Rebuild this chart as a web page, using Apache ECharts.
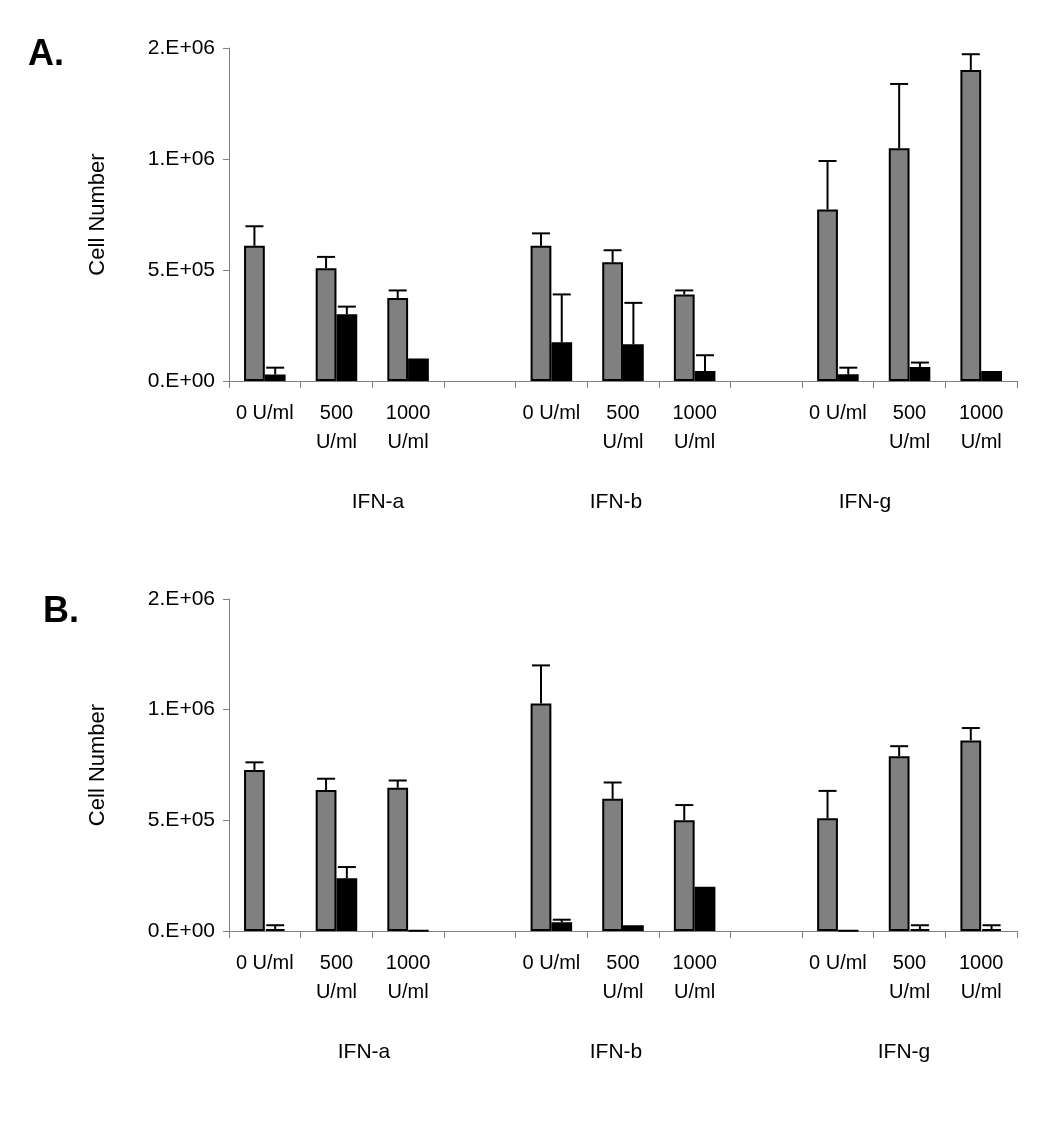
<!DOCTYPE html>
<html>
<head>
<meta charset="utf-8">
<script src="https://cdn.jsdelivr.net/npm/echarts@6/dist/echarts.min.js"></script>
<style>
html,body{margin:0;padding:0;background:#fff;}
#chart{width:1038px;height:1122px;}
</style>
</head>
<body>
<div id="chart"></div>
<script>
// ---- data ----
const categories = ['0 U/ml', '500\nU/ml', '1000\nU/ml', '', '0 U/ml', '500\nU/ml', '1000\nU/ml', '', '0 U/ml', '500\nU/ml', '1000\nU/ml'];
const groupLabels = ['IFN-a', 'IFN-b', 'IFN-g'];
const yTickLabels = ['0.E+00', '5.E+05', '1.E+06', '2.E+06'];

// Panel A
const grayA     = [609000, 508000, 374000, null, 609000, 535000, 390000, null, 773000, 1048000, 1401000];
const errGrayA  = [88000, 51000, 34000, null, 56000, 54000, 18000, null, 218000, 290000, 71000];
const blackA    = [29000, 301000, 101000, null, 174000, 165000, 45000, null, 30000, 63000, 45000];
const errBlackA = [31000, 34000, null, null, 216000, 187000, 71000, null, 30000, 20000, null];

// Panel B
const grayB     = [727000, 637000, 647000, null, 1028000, 597000, 500000, null, 509000, 790000, 861000];
const errGrayB  = [35000, 51000, 33000, null, 172000, 74000, 69000, null, 124000, 45000, 56000];
const blackB    = [9000, 238000, 2000, null, 39000, 26000, 200000, null, 2000, 9000, 9000];
const errBlackB = [17000, 51000, null, null, 12000, null, null, null, null, 17000, 17000];

// ---- chart ----
const FONT = 'Liberation Sans, Arial, sans-serif';
const GAP = 0.42;
const chart = echarts.init(document.getElementById('chart'), null, {renderer: 'canvas'});

function errData(vals, errs) {
  const out = [];
  vals.forEach((v, i) => { if (v != null && errs[i] != null) out.push([i, v, errs[i]]); });
  return out;
}
function errRender(side) {
  return function (params, api) {
    const i = api.value(0), v = api.value(1), e = api.value(2);
    const base = api.coord([i, v]);
    const top = api.coord([i, v + e]);
    const band = api.size([1, 0])[0];
    const bw = band * (1 - GAP) / 2;
    const cx = base[0] + side * bw / 2;
    const half = 9;
    return {
      type: 'group',
      children: [
        {type: 'line', shape: {x1: cx, y1: base[1], x2: cx, y2: top[1]}, style: {stroke: '#000', lineWidth: 2}},
        {type: 'line', shape: {x1: cx - half, y1: top[1], x2: cx + half, y2: top[1]}, style: {stroke: '#000', lineWidth: 2}}
      ]
    };
  };
}

const grids = [
  {left: 229, right: 21, top: 48, bottom: 741},
  {left: 229, right: 21, top: 599, bottom: 191}
];

function xAxis(idx) {
  return {
    type: 'category', gridIndex: idx, data: categories,
    axisLine: {lineStyle: {color: '#808080', width: 1}},
    axisTick: {show: true, interval: 0, length: 7, lineStyle: {color: '#808080'}},
    axisLabel: {interval: 0, color: '#000', fontFamily: FONT, fontSize: 20, lineHeight: 29, margin: 18}
  };
}
function yAxis(idx) {
  return {
    type: 'value', gridIndex: idx, min: 0, max: 1500000, interval: 500000,
    name: 'Cell Number', nameLocation: 'middle', nameGap: 120, nameRotate: 90,
    nameTextStyle: {color: '#000', fontFamily: FONT, fontSize: 22},
    axisLine: {show: true, lineStyle: {color: '#808080', width: 1}},
    axisTick: {show: true, length: 6, lineStyle: {color: '#808080'}},
    splitLine: {show: false},
    axisLabel: {color: '#000', fontFamily: FONT, fontSize: 21, margin: 14,
      formatter: v => yTickLabels[Math.round(v / 500000)]}
  };
}
function barSeries(idx, data, color) {
  return {
    type: 'bar', xAxisIndex: idx, yAxisIndex: idx, data: data,
    barGap: '0%', barCategoryGap: (GAP * 100) + '%',
    itemStyle: {color: color, borderColor: '#000', borderWidth: 2},
    silent: true, animation: false
  };
}
function errSeries(idx, vals, errs, side) {
  return {
    type: 'custom', xAxisIndex: idx, yAxisIndex: idx, z: 5,
    data: errData(vals, errs), renderItem: errRender(side), silent: true, animation: false
  };
}

const groupX = [[378, 616, 865], [364, 616, 904]];
const groupY = [502, 1052];
const graphics = [];
[0, 1].forEach(p => {
  groupLabels.forEach((g, k) => {
    graphics.push({type: 'text', x: groupX[p][k], y: groupY[p],
      style: {text: g, fill: '#000', font: '21px ' + FONT, textAlign: 'center', textVerticalAlign: 'middle'}});
  });
});
graphics.push({type: 'text', x: 28, y: 55, style: {text: 'A.', fill: '#000', font: 'bold 36px ' + FONT, textAlign: 'left', textVerticalAlign: 'middle'}});
graphics.push({type: 'text', x: 43, y: 612, style: {text: 'B.', fill: '#000', font: 'bold 36px ' + FONT, textAlign: 'left', textVerticalAlign: 'middle'}});

chart.setOption({
  backgroundColor: '#fff',
  animation: false,
  grid: grids,
  xAxis: [xAxis(0), xAxis(1)],
  yAxis: [yAxis(0), yAxis(1)],
  series: [
    barSeries(0, grayA, '#808080'),
    barSeries(0, blackA, '#000'),
    errSeries(0, grayA, errGrayA, -1),
    errSeries(0, blackA, errBlackA, 1),
    barSeries(1, grayB, '#808080'),
    barSeries(1, blackB, '#000'),
    errSeries(1, grayB, errGrayB, -1),
    errSeries(1, blackB, errBlackB, 1)
  ],
  graphic: graphics
});
</script>
</body>
</html>
